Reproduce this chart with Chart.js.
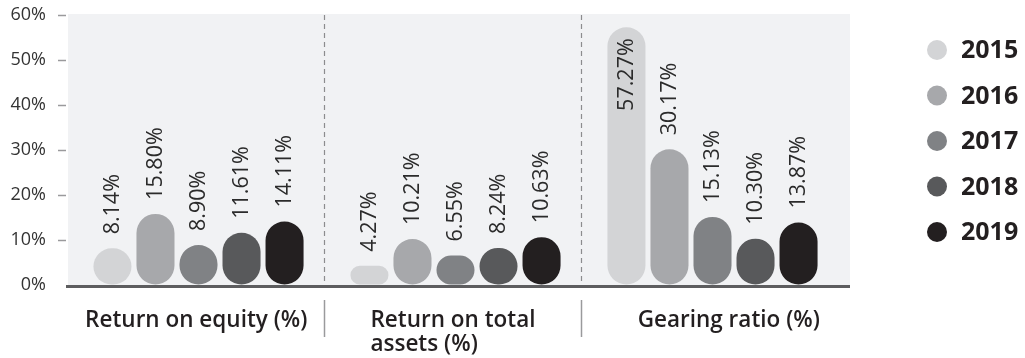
<!DOCTYPE html>
<html>
<head>
<meta charset="utf-8">
<script src="https://cdn.jsdelivr.net/npm/chart.js@4.4.0/dist/chart.umd.min.js"></script>
<style>
  html, body { margin: 0; padding: 0; background: #fff; }
  #wrap { width: 1025px; height: 358px; }
</style>
</head>
<body>
<div id="wrap"><canvas id="ratioChart" width="1025" height="358"></canvas></div>
<script>
const categories = [["Return on equity (%)"], ["Return on total", "assets (%)"], ["Gearing ratio (%)"]];
const years = ["2015", "2016", "2017", "2018", "2019"];
const values2015 = [8.14, 4.27, 57.27];
const values2016 = [15.80, 10.21, 30.17];
const values2017 = [8.90, 6.55, 15.13];
const values2018 = [11.61, 8.24, 10.30];
const values2019 = [14.11, 10.63, 13.87];
const yTicks = [0, 10, 20, 30, 40, 50, 60];
const yearColors = ["#d3d4d6", "#a7a8ab", "#808285", "#58595b", "#231f20"];

const FONT = "'Open Sans', 'Noto Sans', sans-serif";
const series = [values2015, values2016, values2017, values2018, values2019];

function dividerX(x, i) {
  return Math.round((x.getPixelForValue(i) + x.getPixelForValue(i + 1)) / 2) - 2.5;
}

const panelPlugin = {
  id: "panel",
  beforeDatasetsDraw(chart) {
    const { ctx, chartArea: a, scales: { x, y } } = chart;
    ctx.save();
    ctx.fillStyle = "#f1f2f4";
    ctx.fillRect(a.left - 2, a.top - 1, a.right - a.left + 11, a.bottom - a.top + 1);

    // short tick marks left of the panel
    ctx.strokeStyle = "#9a9a9c";
    ctx.lineWidth = 1.5;
    yTicks.forEach((v) => {
      if (v === 0) return;
      const py = Math.round(y.getPixelForValue(v)) + 0.5;
      ctx.beginPath();
      ctx.moveTo(a.left - 12, py);
      ctx.lineTo(a.left - 4, py);
      ctx.stroke();
    });

    // dashed dividers between groups
    ctx.strokeStyle = "#8c8c8e";
    ctx.lineWidth = 1.2;
    ctx.setLineDash([5, 4]);
    for (let i = 0; i < categories.length - 1; i++) {
      const mx = dividerX(x, i);
      ctx.beginPath();
      ctx.moveTo(mx, a.top);
      ctx.lineTo(mx, a.bottom);
      ctx.stroke();
    }
    ctx.restore();
  },
  afterDatasetsDraw(chart) {
    const { ctx, chartArea: a, scales: { x } } = chart;
    ctx.save();

    // baseline
    ctx.strokeStyle = "#5d5d5f";
    ctx.lineWidth = 3;
    ctx.beginPath();
    ctx.moveTo(a.left - 4, a.bottom + 1.5);
    ctx.lineTo(a.right + 9, a.bottom + 1.5);
    ctx.stroke();

    // solid separators under the axis
    ctx.strokeStyle = "#9a9a9c";
    ctx.lineWidth = 1.5;
    for (let i = 0; i < categories.length - 1; i++) {
      const mx = dividerX(x, i);
      ctx.beginPath();
      ctx.moveTo(mx, a.bottom + 15);
      ctx.lineTo(mx, a.bottom + 52);
      ctx.stroke();
    }

    // category labels, centred in the cell between separators
    ctx.fillStyle = "#231f20";
    ctx.font = "600 22.5px " + FONT;
    ctx.textBaseline = "alphabetic";
    ctx.textAlign = "left";
    categories.forEach((lines, i) => {
      const left = i === 0 ? a.left - 2 : dividerX(x, i - 1);
      const right = i === categories.length - 1 ? a.right + 35 : dividerX(x, i);
      const cx = (left + right) / 2;
      const w = Math.max(...lines.map((l) => ctx.measureText(l).width));
      lines.forEach((l, j) => ctx.fillText(l, cx - w / 2, a.bottom + 42 + j * 24));
    });

    // value labels, rotated
    ctx.font = "400 21.5px " + FONT;
    ctx.fillStyle = "#2b2b2b";
    ctx.textBaseline = "middle";
    chart.data.datasets.forEach((ds, di) => {
      chart.getDatasetMeta(di).data.forEach((bar, i) => {
        const txt = ds.data[i].toFixed(2) + "%";
        const tw = ctx.measureText(txt).width;
        ctx.save();
        if (bar.y - 14 - tw > a.top) {
          ctx.translate(bar.x, bar.y - 14);
          ctx.rotate(-Math.PI / 2);
          ctx.textAlign = "left";
        } else {
          ctx.translate(bar.x, bar.y + 11);
          ctx.rotate(-Math.PI / 2);
          ctx.textAlign = "right";
        }
        ctx.fillText(txt, 0, 0);
        ctx.restore();
      });
    });

    // legend
    ctx.font = "bold 25px " + FONT;
    ctx.textAlign = "left";
    ctx.textBaseline = "middle";
    chart.data.datasets.forEach((ds, di) => {
      const ly = 50 + di * 45.5;
      ctx.fillStyle = ds.backgroundColor;
      ctx.beginPath();
      ctx.arc(937, ly, 10, 0, Math.PI * 2);
      ctx.fill();
      ctx.fillStyle = "#231f20";
      ctx.fillText(ds.label, 961, ly + 1);
    });

    ctx.restore();
  },
};

new Chart(document.getElementById("ratioChart"), {
  type: "bar",
  data: {
    labels: categories,
    datasets: years.map((yr, i) => ({
      label: yr,
      data: series[i],
      backgroundColor: yearColors[i],
      borderRadius: 40,
      borderSkipped: false,
      categoryPercentage: 0.837,
      barPercentage: 0.884,
    })),
  },
  options: {
    responsive: false,
    animation: false,
    layout: { padding: { top: 15, right: 184, bottom: 73, left: 0 } },
    plugins: {
      legend: { display: false },
      tooltip: { enabled: false },
    },
    scales: {
      x: { display: false },
      y: {
        min: 0,
        max: 60,
        afterFit: (scale) => {
          scale.width = 70;
          // keep tick padding from pushing the panel down
          scale.paddingTop = 0;
          scale.paddingBottom = 0;
        },
        afterBuildTicks: (scale) => { scale.ticks = yTicks.map((v) => ({ value: v })); },
        ticks: {
          padding: 24,
          color: "#333333",
          font: { family: FONT, size: 18 },
          callback: (v) => v + "%",
        },
        grid: { drawOnChartArea: false, drawTicks: false },
        border: { display: false },
      },
    },
  },
  plugins: [panelPlugin],
});
</script>
</body>
</html>
